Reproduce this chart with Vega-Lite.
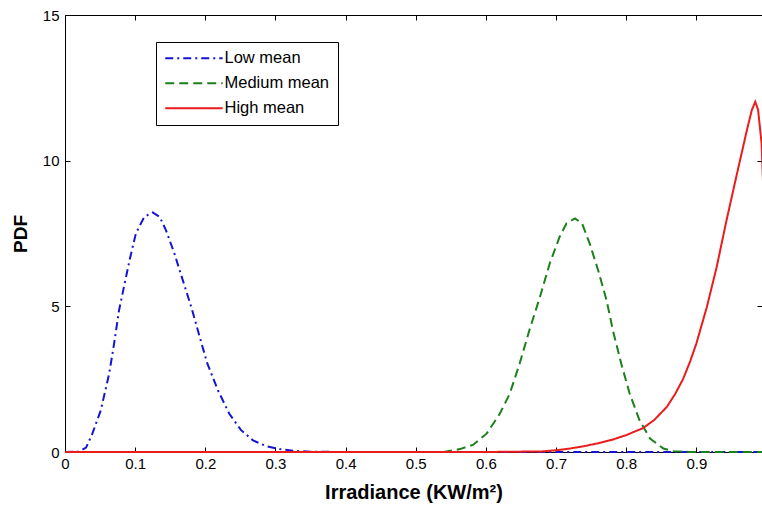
{
  "$schema": "https://vega.github.io/schema/vega-lite/v6.json",
  "width": 697,
  "height": 437,
  "autosize": {"type": "none"},
  "padding": {"left": 65, "top": 15, "right": 0, "bottom": 60},
  "background": "white",
  "data": {"values": [
    {"series": "Low mean", "x": 0, "y": 0},
    {"series": "Low mean", "x": 0.02, "y": 0.01},
    {"series": "Low mean", "x": 0.03, "y": 0.15},
    {"series": "Low mean", "x": 0.039, "y": 0.63},
    {"series": "Low mean", "x": 0.051, "y": 1.43},
    {"series": "Low mean", "x": 0.063, "y": 2.69},
    {"series": "Low mean", "x": 0.07, "y": 3.72},
    {"series": "Low mean", "x": 0.077, "y": 4.86},
    {"series": "Low mean", "x": 0.085, "y": 5.78},
    {"series": "Low mean", "x": 0.092, "y": 6.58},
    {"series": "Low mean", "x": 0.101, "y": 7.5},
    {"series": "Low mean", "x": 0.113, "y": 8.07},
    {"series": "Low mean", "x": 0.125, "y": 8.22},
    {"series": "Low mean", "x": 0.135, "y": 8.07},
    {"series": "Low mean", "x": 0.144, "y": 7.61},
    {"series": "Low mean", "x": 0.156, "y": 6.81},
    {"series": "Low mean", "x": 0.168, "y": 5.89},
    {"series": "Low mean", "x": 0.18, "y": 4.98},
    {"series": "Low mean", "x": 0.192, "y": 3.95},
    {"series": "Low mean", "x": 0.203, "y": 3.03},
    {"series": "Low mean", "x": 0.218, "y": 2.12},
    {"series": "Low mean", "x": 0.234, "y": 1.32},
    {"series": "Low mean", "x": 0.251, "y": 0.75},
    {"series": "Low mean", "x": 0.268, "y": 0.4},
    {"series": "Low mean", "x": 0.287, "y": 0.2},
    {"series": "Low mean", "x": 0.306, "y": 0.1},
    {"series": "Low mean", "x": 0.325, "y": 0.04},
    {"series": "Low mean", "x": 0.35, "y": 0.01},
    {"series": "Low mean", "x": 0.4, "y": 0},
    {"series": "Low mean", "x": 0.7, "y": 0},
    {"series": "Low mean", "x": 1.0, "y": 0},
    {"series": "Medium mean", "x": 0, "y": 0},
    {"series": "Medium mean", "x": 0.54, "y": 0},
    {"series": "Medium mean", "x": 0.563, "y": 0.1},
    {"series": "Medium mean", "x": 0.582, "y": 0.25},
    {"series": "Medium mean", "x": 0.601, "y": 0.63},
    {"series": "Medium mean", "x": 0.62, "y": 1.32},
    {"series": "Medium mean", "x": 0.634, "y": 2.0},
    {"series": "Medium mean", "x": 0.648, "y": 3.03},
    {"series": "Medium mean", "x": 0.662, "y": 4.18},
    {"series": "Medium mean", "x": 0.677, "y": 5.32},
    {"series": "Medium mean", "x": 0.691, "y": 6.47},
    {"series": "Medium mean", "x": 0.705, "y": 7.38},
    {"series": "Medium mean", "x": 0.715, "y": 7.85},
    {"series": "Medium mean", "x": 0.727, "y": 8.02},
    {"series": "Medium mean", "x": 0.737, "y": 7.85},
    {"series": "Medium mean", "x": 0.748, "y": 7.15},
    {"series": "Medium mean", "x": 0.76, "y": 6.24},
    {"series": "Medium mean", "x": 0.772, "y": 5.21},
    {"series": "Medium mean", "x": 0.781, "y": 4.18},
    {"series": "Medium mean", "x": 0.793, "y": 3.03},
    {"series": "Medium mean", "x": 0.805, "y": 2.0},
    {"series": "Medium mean", "x": 0.819, "y": 1.09},
    {"series": "Medium mean", "x": 0.834, "y": 0.46},
    {"series": "Medium mean", "x": 0.853, "y": 0.12},
    {"series": "Medium mean", "x": 0.867, "y": 0.03},
    {"series": "Medium mean", "x": 0.89, "y": 0},
    {"series": "Medium mean", "x": 1.0, "y": 0},
    {"series": "High mean", "x": 0, "y": 0},
    {"series": "High mean", "x": 0.6, "y": 0},
    {"series": "High mean", "x": 0.68, "y": 0.02},
    {"series": "High mean", "x": 0.7, "y": 0.06},
    {"series": "High mean", "x": 0.72, "y": 0.12},
    {"series": "High mean", "x": 0.74, "y": 0.2},
    {"series": "High mean", "x": 0.76, "y": 0.3},
    {"series": "High mean", "x": 0.78, "y": 0.42},
    {"series": "High mean", "x": 0.8, "y": 0.58},
    {"series": "High mean", "x": 0.824, "y": 0.82},
    {"series": "High mean", "x": 0.84, "y": 1.1},
    {"series": "High mean", "x": 0.858, "y": 1.55},
    {"series": "High mean", "x": 0.87, "y": 2.0},
    {"series": "High mean", "x": 0.881, "y": 2.5},
    {"series": "High mean", "x": 0.891, "y": 3.1},
    {"series": "High mean", "x": 0.9, "y": 3.72},
    {"series": "High mean", "x": 0.915, "y": 4.98},
    {"series": "High mean", "x": 0.929, "y": 6.35},
    {"series": "High mean", "x": 0.943, "y": 7.95},
    {"series": "High mean", "x": 0.958, "y": 9.56},
    {"series": "High mean", "x": 0.972, "y": 11.04},
    {"series": "High mean", "x": 0.979, "y": 11.73},
    {"series": "High mean", "x": 0.984, "y": 12.02},
    {"series": "High mean", "x": 0.988, "y": 11.75},
    {"series": "High mean", "x": 0.993, "y": 10.6},
    {"series": "High mean", "x": 0.997, "y": 8.0},
    {"series": "High mean", "x": 1.0, "y": 0}
  ]},
  "resolve": {"axis": {"x": "independent", "y": "independent"}},
  "layer": [
    {
      "mark": {"type": "line", "opacity": 0},
      "encoding": {
        "x": {"field": "x", "type": "quantitative",
              "scale": {"domain": [0, 0.9936], "nice": false, "zero": false},
              "axis": {"orient": "top", "title": null, "labels": false, "values": [0, 0.1, 0.2, 0.3, 0.4, 0.5, 0.6, 0.7, 0.8, 0.9]}},
        "y": {"field": "y", "type": "quantitative",
              "scale": {"domain": [0, 15], "nice": false},
              "axis": {"orient": "right", "title": null, "labels": false, "domain": false, "values": [0, 5, 10, 15]}},
        "detail": {"field": "series"}
      }
    },
    {
      "mark": {"type": "line", "strokeWidth": 2},
      "encoding": {
        "x": {"field": "x", "type": "quantitative",
              "axis": {"title": "Irradiance (KW/m²)", "values": [0, 0.1, 0.2, 0.3, 0.4, 0.5, 0.6, 0.7, 0.8, 0.9],
                       "format": ".1~f", "labelFlush": false, "labelPadding": 9, "titlePadding": 11, "titleFontSize": 20}},
        "y": {"field": "y", "type": "quantitative",
              "axis": {"title": "PDF", "values": [0, 5, 10, 15], "labelPadding": 11, "titlePadding": 12}},
        "color": {"field": "series", "type": "nominal",
                  "scale": {"domain": ["Low mean", "Medium mean", "High mean"], "range": ["#1414d2", "#1a801a", "#ea1c1c"]},
                  "legend": {"title": null, "orient": "none", "legendX": 91, "legendY": 27,
                             "symbolType": "M-1,0H7.2", "symbolSize": 196, "labelOffset": 44,
                             "symbolStrokeWidth": 2, "symbolFillColor": "transparent"}},
        "strokeDash": {"field": "series", "type": "nominal",
                       "scale": {"domain": ["Low mean", "Medium mean", "High mean"], "range": [[8, 4, 2, 4], [9, 5], [1, 0]]},
                       "legend": {"title": null, "orient": "none", "legendX": 91, "legendY": 27,
                                  "symbolType": "M-1,0H7.2", "symbolSize": 196, "labelOffset": 44,
                                  "symbolStrokeWidth": 2, "symbolFillColor": "transparent"}}
      }
    }
  ],
  "config": {
    "view": {"stroke": null},
    "axis": {"grid": false, "zindex": 0, "domainColor": "#000", "tickColor": "#000", "labelColor": "#000", "titleColor": "#000",
             "labelFont": "Liberation Sans", "labelFontSize": 15, "titleFont": "Liberation Sans", "titleFontSize": 19,
             "titleFontWeight": "bold", "tickSize": -5, "domainWidth": 1, "tickWidth": 1},
    "legend": {"strokeColor": "#000", "fillColor": "white", "padding": 8, "rowPadding": 8,
               "labelFont": "Liberation Sans", "labelFontSize": 16.5, "labelColor": "#000", "labelBaseline": "middle"}
  }
}
